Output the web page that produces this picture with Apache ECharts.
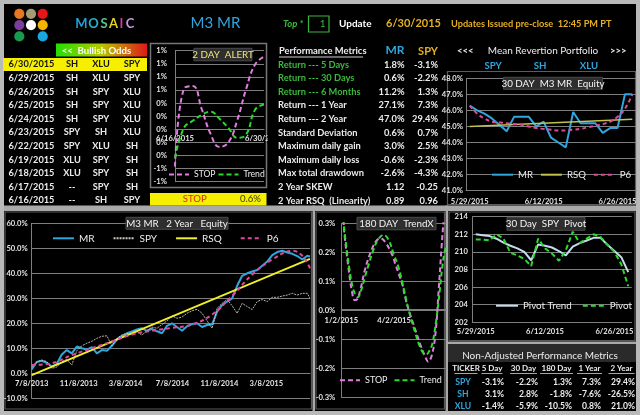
<!DOCTYPE html>
<html><head><meta charset="utf-8">
<script src="https://cdn.jsdelivr.net/npm/echarts@6/dist/echarts.min.js"></script>
<style>html,body{margin:0;padding:0;background:#000;}#c{width:640px;height:415px;}</style>
</head><body><div id="c"></div>
<script>
// ---------------- DATA ----------------
const oddsDates = ['6/30/2015','6/29/2015','6/26/2015','6/25/2015','6/24/2015','6/23/2015','6/22/2015','6/19/2015','6/18/2015','6/17/2015','6/16/2015'];
const oddsCol1 = ['SH','SH','SH','SH','SH','SPY','SPY','XLU','XLU','--','--'];
const oddsCol2 = ['XLU','XLU','SPY','SPY','SPY','SH','XLU','SPY','SPY','SPY','SH'];
const oddsCol3 = ['SPY','SPY','XLU','XLU','XLU','XLU','SH','SH','SH','SH','SPY'];

const metricNames = ['Return --- 5 Days','Return --- 30 Days','Return --- 6 Months','Return --- 1 Year','Return --- 2 Year','Standard Deviation','Maximum daily gain','Maximum daily loss','Max total drawdown','2 Year SKEW','2 Year RSQ  (Linearity)'];
const metricMR  = ['1.8%','0.6%','11.2%','27.1%','47.0%','0.6%','3.0%','-0.6%','-2.6%','1.12','0.89'];
const metricSPY = ['-3.1%','-2.2%','1.3%','7.3%','29.4%','0.7%','2.5%','-2.3%','-4.3%','-0.25','0.96'];

const portfolioTickers = ['SPY','SH','XLU'];

const naHeaders = ['TICKER','5 Day','30 Day','180 Day','1 Year','2 Year'];
const naTickers = ['SPY','SH','XLU'];
const naValues = [[-3.1,-2.2,1.3,7.3,29.4],[3.1,2.8,-1.8,-7.6,-26.5],[-1.4,-5.9,-10.5,0.8,21.0]];

// 2 DAY ALERT
const alertDates = ['6/16/2015','6/17/2015','6/18/2015','6/19/2015','6/22/2015','6/23/2015','6/24/2015','6/25/2015','6/26/2015','6/29/2015','6/30/2015'];
const alertStop  = [-0.57,0.62,0.66,0.31,-0.07,-0.27,-0.20,0.14,0.62,0.99,1.11];
const alertTrend = [-0.44,0.02,0.13,0.22,0.27,0.16,0.02,-0.13,-0.08,0.30,0.38];
const alertSignal = 'STOP', alertValue = '0.6%';

// 30 DAY M3 MR Equity
const d30Dates = ['5/29/2015','6/1/2015','6/2/2015','6/3/2015','6/4/2015','6/5/2015','6/8/2015','6/9/2015','6/10/2015','6/11/2015','6/12/2015','6/15/2015','6/16/2015','6/17/2015','6/18/2015','6/19/2015','6/22/2015','6/23/2015','6/24/2015','6/25/2015','6/26/2015','6/29/2015','6/30/2015'];
const eq30MR  = [46.3,46.0,45.8,45.5,45.1,44.7,45.6,45.6,45.6,45.0,45.3,44.3,44.0,43.7,45.9,45.2,45.2,45.2,44.6,44.9,44.9,47.0,47.0];
const eq30RSQ = [45.0,null,null,null,null,null,null,null,null,null,null,null,null,null,null,null,null,null,null,null,null,null,45.45];
const eq30P6  = [46.3,45.8,45.5,45.3,45.25,45.2,45.15,45.1,45.0,44.9,44.85,44.8,44.75,44.75,44.8,44.85,44.95,45.05,45.15,45.3,45.6,46.1,47.0];

// M3 MR 2 Year Equity (x = days since 7/8/2013)
const eqTickLabels = ['7/8/2013','11/8/2013','3/8/2014','7/8/2014','11/8/2014','3/8/2015'];
const eqDays = [0,13,26,39,52,65,78,91,104,117,130,143,156,169,182,195,208,221,234,247,260,273,286,299,312,325,338,351,364,377,390,403,416,429,442,455,468,481,494,507,520,533,546,559,572,585,598,611,624,637,650,663,676,689,702,715,722];
const eqMR  = [1.5,4.5,5.0,4.2,2.7,3.7,7.5,9.3,8.0,10.7,10.0,9.5,10.5,8.0,9.3,9.0,11.0,13.5,15.0,16.0,16.7,17.5,18.0,17.0,17.8,16.8,16.0,19.0,20.0,18.5,17.0,18.8,19.7,20.0,18.5,19.3,19.5,24.7,27.3,28.7,30.0,35.0,39.0,40.0,40.7,41.3,43.0,44.7,47.3,48.5,49.0,48.3,47.8,46.9,45.5,47.0,46.7];
const eqSPY = [2.5,4.5,5.3,4.7,2.0,2.5,4.7,5.5,3.3,9.0,11.0,12.0,12.8,14.0,14.8,15.0,11.0,14.0,15.3,16.0,15.5,16.7,15.3,17.0,18.5,18.0,19.5,21.0,23.0,22.0,22.5,24.0,25.0,25.6,24.0,21.0,18.0,26.0,28.0,29.5,27.0,24.0,28.0,26.7,25.5,28.7,29.5,28.7,30.4,30.4,30.9,31.3,32.0,31.3,32.0,32.0,30.0];
const eqRSQDays = [0,722], eqRSQ = [-0.7,45.8];
const eqP6Days = [0,52,104,156,208,260,312,364,416,468,520,572,624,676,702,722];
const eqP6     = [3.3,4.0,7.3,10.0,12.7,15.5,17.0,18.2,19.5,23.5,31.0,39.5,45.5,49.0,47.0,42.0];

// 180 DAY TrendX (x = days since 1/2/2015)
const trendxTickLabels = ['1/2/2015','4/2/2015'];
const txStopDays = [0,4,6,12,18,23,27,33,41,52,60,67,75,87,92,98,104,109,115,125,135,143,148,155,161,166,171,175,179];
const txStop     = [0.45,0.30,0.25,0.15,0.067,0.035,0.038,0.075,0.145,0.21,0.24,0.248,0.235,0.19,0.16,0.125,0.09,0.044,0.0,-0.06,-0.12,-0.16,-0.177,-0.15,-0.07,0.07,0.22,0.33,0.45];
const txTrendDays = [0,4,8,14,20,25,28,34,41,47,55,63,72,80,90,98,107,115,125,133,140,145,150,155,160,164,168,172,176,179];
const txTrend     = [0.40,0.30,0.23,0.14,0.075,0.05,0.045,0.07,0.12,0.16,0.21,0.245,0.26,0.245,0.19,0.145,0.07,0.0,-0.07,-0.12,-0.148,-0.152,-0.14,-0.117,-0.06,0.0,0.07,0.147,0.20,0.22];

// 30 Day SPY Pivot
const pivotTrend = [212.0,211.9,211.8,211.5,211.05,210.7,210.4,210.0,209.05,210.85,210.7,210.5,210.1,209.6,210.6,211.0,211.3,211.6,211.6,210.8,210.1,209.4,207.7];
const pivot      = [211.4,211.4,211.3,212.0,211.5,209.9,209.6,209.2,208.4,211.5,210.4,209.8,209.0,210.2,212.3,211.0,211.5,212.0,211.7,210.8,210.0,208.6,206.1];

// ---------------- DRAWING ----------------
const F = 'Lato, "Open Sans", "DejaVu Sans", sans-serif';
const C = {blue:'#2fa6de', gold:'#e6b022', green:'#3cb83c', pink:'#e07ee0', p6:'#e2489a', lgreen:'#2adc2a', grid:'#7e7e7e', orange:'#c46c2a', txt:'#ececec'};
const G = [];
function txt(x, y, s, color, size, weight, align, fstyle, z) {
  G.push({type:'text', x:x, y:y, z:z||60, silent:true, style:{text:s, fill:color, font:(fstyle||'normal')+' '+(weight||'normal')+' '+size+'px '+F, textAlign:align||'left', textVerticalAlign:'middle'}});
}
function rect(x,y,w,h,fill,stroke,lw,z){ G.push({type:'rect', z:(z==null?-10:z), silent:true, shape:{x:x,y:y,width:w,height:h}, style:{fill:fill||'none', stroke:stroke||null, lineWidth:lw||1}}); }
function hline(x1,x2,y,color,lw,z){ G.push({type:'line', z:z||60, silent:true, shape:{x1:x1,y1:y,x2:x2,y2:y}, style:{stroke:color, lineWidth:lw||1}}); }
function circ(cx,cy,r,fill){ G.push({type:'circle', z:60, silent:true, shape:{cx:cx,cy:cy,r:r}, style:{fill:fill}}); }

// page frame
rect(0,0,640,415,'#b9b9b9',null,1,-20);
rect(4,4,632,407,'#000',null,1,-19);
// separators
rect(4,205.5,632,5.5,'#a9a9a9',null,1,-18);
rect(312.5,205.5,2.5,206,'#a9a9a9',null,1,-18);
rect(445.5,205.5,2.5,206,'#a9a9a9',null,1,-18);
rect(448,341.5,188,2.5,'#a9a9a9',null,1,-18);
// panel frames
rect(150.5,43.5,116,144,null,'#767676',1.5,-5);
rect(447.5,71.5,188,133,null,'#5c5c5c',1.2,-5);
rect(5,212,306.5,197,null,'#5a5a5a',1.2,-5);
rect(316,212,128.5,197,null,'#5a5a5a',1.2,-5);
rect(449,212,186,128.5,null,'#5a5a5a',1.2,-5);
// mask for the clipped last date label of the 2-day chart
rect(267.6,133,16,11,'#000',null,1,40);

// logo
const logoColors = [['#e87722','#a39c72','#e8141c'],['#7c3ca0','#ffffff','#f5b400'],['#1a9a50',null,'#18a8e0']];
logoColors.forEach((row,r)=>row.forEach((c,k)=>{ if(c) circ(19.3+k*11.7, 13.8+r*11.3, 5.1, c); }));
// MOSAIC
const mosaicLetters = ['M','O','S','A','I','C'];
const mosaicColors = ['#1ea2dc','#22b6cc','#5cc08c','#e4d61a','#d43aa8','#cc98d8'];
const mosaicX = [81.5,93.5,104,113.5,121.5,130];
mosaicLetters.forEach((l,i)=>txt(mosaicX[i],23.5,l,mosaicColors[i],13,'bold','center'));
txt(215.5,23.5,'M3 MR','#33a3dc',15,'normal','center');
txt(283,24,'Top *',C.green,9.5,'bold','left','italic');
rect(308.5,16,20.5,16,'#000',C.green,1.2,55);
txt(325.5,24,'1',C.green,10,'normal','right');
txt(339,24,'Update','#ffffff',10,'bold','left');
txt(386,23.5,'6/30/2015',C.gold,11,'bold','left');
txt(451,24,'Updates Issued pre-close  12:45 PM PT',C.gold,9.2,'bold','left');

// Bullish odds banner + table
G.push({type:'rect', z:-4, silent:true, shape:{x:56,y:43.5,width:91,height:13}, style:{fill:new echarts.graphic.LinearGradient(0,0,1,0,[{offset:0,color:'#22e000'},{offset:0.5,color:'#b8c800'},{offset:1,color:'#e01818'}])}});
txt(96.5,50.5,'<<  Bullish Odds','#ffffff',9.6,'bold','center');
rect(3,58,144,13,'#f6ef00',null,1,-4);
oddsDates.forEach((d,i)=>{
  const y = 64.5 + i*13.6, col = i===0 ? '#111' : C.txt;
  txt(8.5,y,d,col,9.2,'bold','left');
  txt(72,y,oddsCol1[i],col,9.2,'bold','center');
  txt(101,y,oddsCol2[i],col,9.2,'bold','center');
  txt(132,y,oddsCol3[i],col,9.2,'bold','center');
});

// Performance metrics
txt(279,51,'Performance Metrics',C.txt,9.4,'bold','left');
hline(279,363,57,'#d0d0d0',1);
txt(395,50.5,'MR',C.blue,12,'bold','center');
txt(428,51,'SPY',C.gold,11,'bold','center');
metricNames.forEach((n,i)=>{
  const y = 64.5 + i*13.6;
  txt(278,y,n,i<3?C.green:C.txt,9.3,'bold','left');
  txt(404.5,y,metricMR[i],C.txt,9.3,'bold','right');
  txt(438,y,metricSPY[i],C.txt,9.3,'bold','right');
});

// Mean reversion header
txt(457,51,'<<<',C.txt,9.5,'bold','left');
txt(543,51,'Mean Revertion Portfolio',C.txt,10,'normal','center');
txt(610,51,'>>>',C.txt,9.5,'bold','left');
[493,540,589].forEach((x,i)=>txt(x,66,portfolioTickers[i],C.blue,9.6,'bold','center'));

// 2 day alert yellow bar
rect(150,193,116.5,12.5,'#f6ef00',null,1,-4);
txt(194.7,199.3,alertSignal,'#e02020',9.6,'normal','center');
txt(261,199.3,alertValue,'#3a3a10',9.6,'normal','right');

// title boxes
function titleBox(x,y,w,h,s,color){ rect(x,y,w,h,'#2e2e2e','#4a4a4a',1,50); txt(x+w/2,y+h/2+0.5,s,color||'#f4f4f4',9.8,'normal','center',null,60); }
titleBox(194,48.3,58,12.5,'2 DAY  ALERT','#f2e27a');
titleBox(503.5,77.3,99,12,'30 DAY  M3 MR  Equity');
titleBox(126,217.3,102,12,'M3 MR   2 Year   Equity');
titleBox(357,217.3,79,12.5,'180 DAY  TrendX');
titleBox(507,217.3,78,13,'30 Day  SPY  Pivot');

// Non-adjusted table
rect(448,344,188,18,'#2a2a2a',null,1,-4);
txt(540,355.5,'Non-Adjusted Performance Metrics',C.txt,10,'normal','center');
const naHX = [466,492,523.5,556.5,589.5,621.5], naHW = [23,21,27,33,25,26];
naHeaders.forEach((h,i)=>{ txt(naHX[i],368.5,h,C.txt,8,'bold','center'); hline(naHX[i]-naHW[i]/2,naHX[i]+naHW[i]/2,373.5,'#cfcfcf',0.8); });
const naVX = [504,538,572,601,635];
naTickers.forEach((t,r)=>{
  const y = 382.3 + r*11.9;
  txt(463,y,t,C.blue,8.6,'bold','center');
  naValues[r].forEach((v,k)=>txt(naVX[k],y,v.toFixed(1)+'%',C.txt,8.6,'bold','right'));
});

// ---------------- CHARTS ----------------
const axLbl = {color:'#e2e2e2', fontSize:7.6, fontWeight:'bold', fontFamily:F, hideOverlap:false};
const gl = {show:true, lineStyle:{color:C.grid, width:1}};
const gridRects = [
  {left:175, top:50.7, width:89, height:131},
  {left:466, top:78.3, width:170, height:112.4},
  {left:31.7, top:223.3, width:278.3, height:175},
  {left:341.3, top:223.3, width:105, height:174},
  {left:472.3, top:216.7, width:159.4, height:105.6}
];
// grids 5,6,7 repeat grids 0,2,3 and carry only the value-axis scale labels and gridlines
const grids = gridRects.concat([gridRects[0], gridRects[2], gridRects[3]])
  .map(g=>Object.assign({containLabel:false, outerBoundsMode:'none', show:false}, g));

function pickTick(labels, step){ return v=>{ const i=Math.round(v/step); return (Math.abs(v-i*step)<0.5 && labels[i]) ? labels[i] : ''; }; }

const xAxis = [
  {gridIndex:0, type:'category', data:alertDates, boundaryGap:false, position:'bottom', offset:-52.4, axisLine:{onZero:false, lineStyle:{color:C.orange}}, axisTick:{show:false}, axisLabel:Object.assign({}, axLbl, {interval:9, margin:5}), z:1},
  {gridIndex:1, type:'category', data:d30Dates, boundaryGap:true, axisLine:{onZero:false, lineStyle:{color:C.grid}}, axisTick:{show:false}, axisLabel:Object.assign({}, axLbl, {interval:9, margin:7})},
  {gridIndex:2, type:'value', min:0, max:722, interval:121.75, position:'bottom', offset:-25, axisLine:{onZero:false, lineStyle:{color:C.grid}}, axisTick:{show:false}, splitLine:{show:false}, axisLabel:Object.assign({}, axLbl, {margin:6, showMaxLabel:false, formatter:pickTick(eqTickLabels,121.75)}), z:1},
  {gridIndex:3, type:'value', min:0, max:179, interval:90, position:'bottom', offset:-88, axisLine:{onZero:false, lineStyle:{color:C.orange}}, axisTick:{show:false}, splitLine:{show:false}, axisLabel:Object.assign({}, axLbl, {margin:7, showMaxLabel:false, formatter:pickTick(trendxTickLabels,90)}), z:1},
  {gridIndex:4, type:'category', data:d30Dates, boundaryGap:true, axisLine:{onZero:false, lineStyle:{color:C.grid}}, axisTick:{show:false}, axisLabel:Object.assign({}, axLbl, {interval:9, margin:5})},
  {gridIndex:5, type:'value', show:false},
  {gridIndex:6, type:'value', show:false},
  {gridIndex:7, type:'value', show:false}
];
const yScale0 = {type:'value', min:-0.8, max:1.2, interval:0.2};
const yScale2 = {type:'value', min:-10, max:60, interval:10};
const yScale3 = {type:'value', min:-0.3, max:0.3, interval:0.1};
const hiddenY = {axisLine:{show:true, onZero:false, lineStyle:{color:C.grid}}, axisTick:{show:false}, splitLine:{show:false}, axisLabel:{show:false}};
const yAxis = [
  Object.assign({gridIndex:0}, yScale0, hiddenY),
  {gridIndex:1, type:'value', min:41, max:48, interval:1, axisLine:{show:true, onZero:false, lineStyle:{color:C.grid}}, axisTick:{show:false}, splitLine:gl, axisLabel:Object.assign({}, axLbl, {margin:3, formatter:v=>v.toFixed(1)+'%'})},
  Object.assign({gridIndex:2}, yScale2, hiddenY),
  Object.assign({gridIndex:3}, yScale3, hiddenY),
  {gridIndex:4, type:'value', min:202, max:214, interval:2, axisLine:{show:true, onZero:false, lineStyle:{color:C.grid}}, axisTick:{show:false}, splitLine:gl, axisLabel:Object.assign({}, axLbl, {margin:4.5})},
  Object.assign({gridIndex:5}, yScale0, {axisLine:{show:false, onZero:false}, axisTick:{show:false}, splitLine:gl, axisLabel:Object.assign({}, axLbl, {margin:8, formatter:v=>Math.round(v)+'%'})}),
  Object.assign({gridIndex:6}, yScale2, {axisLine:{show:false, onZero:false}, axisTick:{show:false}, splitLine:gl, axisLabel:Object.assign({}, axLbl, {margin:4, formatter:v=>v.toFixed(1)+'%'})}),
  Object.assign({gridIndex:7}, yScale3, {axisLine:{show:false, onZero:false}, axisTick:{show:false}, splitLine:gl, axisLabel:Object.assign({}, axLbl, {margin:6, formatter:v=>v.toFixed(1)+'%'})})
];

function ln(name, gi, data, color, width, type, extra){
  return Object.assign({name:name, type:'line', xAxisIndex:gi, yAxisIndex:gi, data:data, symbol:'none', showSymbol:false, silent:true, animation:false,
    lineStyle:{color:color, width:width, type:type||'solid'}, itemStyle:{color:color}}, extra||{});
}
const pairs = (xs, ys) => xs.map((x,i)=>[x, ys[i]]);
const series = [
  ln('a:STOP',0,alertStop,C.pink,2,[5,3],{smooth:0.45}),
  ln('a:Trend',0,alertTrend,C.lgreen,2,[5,3],{smooth:0.45}),
  ln('b:MR',1,eq30MR,C.blue,2),
  ln('b:RSQ',1,eq30RSQ,'#c2c24e',1.5,'solid',{connectNulls:true}),
  ln('b:P6',1,eq30P6,C.p6,2,[4,3],{smooth:0.4}),
  ln('c:MR',2,pairs(eqDays,eqMR),C.blue,2),
  ln('c:SPY',2,pairs(eqDays,eqSPY),'#d2cac2',0.9,[2,1]),
  ln('c:RSQ',2,pairs(eqRSQDays,eqRSQ),'#f0f02a',1.8),
  ln('c:P6',2,pairs(eqP6Days,eqP6),C.p6,2,[4,3],{smooth:0.4}),
  ln('d:STOP',3,pairs(txStopDays,txStop),C.pink,2,[5,3],{smooth:0.4}),
  ln('d:Trend',3,pairs(txTrendDays,txTrend),C.lgreen,2,[5,3],{smooth:0.4}),
  ln('e:Pivot Trend',4,pivotTrend,'#c6d9ee',2),
  ln('e:Pivot',4,pivot,C.lgreen,2,[5,3])
];
function lg(names, left, cy, iw, gap, fs, w){
  return {data:names, left:left, top:cy-6, width:w||190, itemWidth:iw, itemHeight:2, itemGap:gap, selectedMode:false, padding:0,
    itemStyle:{opacity:0},
    textStyle:{color:C.txt, fontSize:fs||9.4, fontFamily:F, fontWeight:'normal'}, formatter:n=>n.slice(2)};
}
const legend = [
  lg(['a:STOP','a:Trend'],168,176,20,2,8.6),
  lg(['b:MR','b:RSQ','b:P6'],491,175.7,21,7,9.6),
  lg(['c:MR','c:SPY','c:RSQ','c:P6'],52,239.3,21,18,10,280),
  lg(['d:STOP','d:Trend'],339,381.7,20,6,9),
  lg(['e:Pivot Trend','e:Pivot'],495,306.7,22,10,9.8)
];

const chart = echarts.init(document.getElementById('c'));
chart.setOption({backgroundColor:'#000', animation:false, grid:grids, xAxis:xAxis, yAxis:yAxis, series:series, legend:legend, graphic:{elements:G}});
</script></body></html>
